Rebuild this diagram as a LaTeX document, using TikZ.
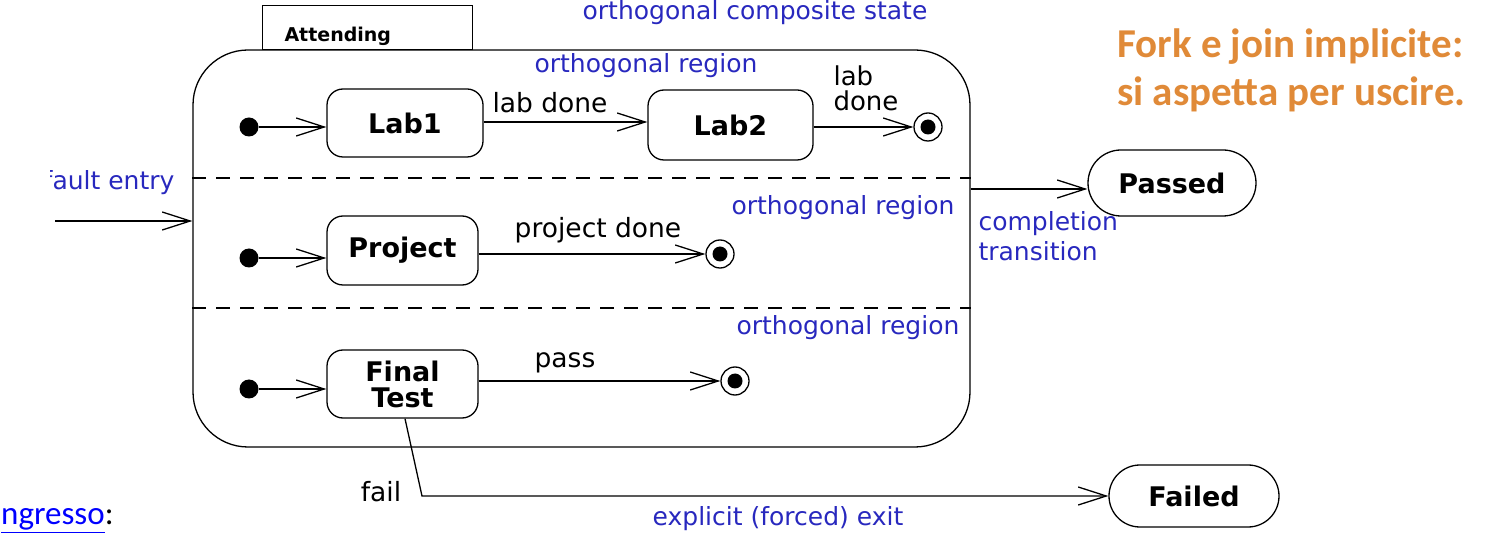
\documentclass[tikz,border=0pt]{standalone}
\usepackage{fontspec}
\setmainfont{DejaVu Sans}
\newfontfamily\calib{Carlito}
\usetikzlibrary{arrows.meta,shapes.misc}

\definecolor{umlblue}{RGB}{40,40,190}
\definecolor{forkorange}{RGB}{224,138,56}

\tikzset{
  statebox/.style={draw, line width=1.3pt, rounded corners=16pt, font=\fontsize{27}{28}\selectfont\bfseries,
    minimum height=68pt, align=center, inner sep=0pt},
  endstate/.style={draw, rounded rectangle, line width=1.3pt, minimum height=66pt,
    font=\fontsize{27}{28}\selectfont\bfseries, inner xsep=10pt},
  trans/.style={line width=1.3pt, -{Straight Barb[length=28pt,width=18pt,line width=1.3pt]}},
  initdot/.style={circle, fill=black, minimum size=19pt, inner sep=0pt},
  finaldot/.style={circle, draw, line width=1.3pt, minimum size=28pt, inner sep=0pt,
    path picture={\fill (path picture bounding box.center) circle (7.5pt);}},
  lbl/.style={font=\fontsize{26.5}{28}\selectfont},
  note/.style={text=umlblue, font=\fontsize{25}{30}\selectfont},
  forktxt/.style={anchor=base west, text=forkorange, font=\fontsize{41}{48}\selectfont\calib\bfseries, inner sep=0pt}
}

\begin{document}
\begin{tikzpicture}[x=1pt, y=-1pt]
  \useasboundingbox (0,0) rectangle (1492,534);

  % stato composito con le tre regioni
  \node[draw, line width=1.3pt, rounded corners=55pt, minimum width=777pt, minimum height=397pt,
    inner sep=0pt] (att) at (581.5,248.5) {};
  \node[draw, line width=1.3pt, minimum width=210pt, minimum height=44pt, anchor=south west,
    inner sep=0pt] (tab) at (262,50) {};
  \node[anchor=west, font=\fontsize{19}{21}\selectfont\bfseries] (attlbl) at (281,36) {Attending};
  \draw[dashed, line width=1.3pt, dash pattern=on 14pt off 10pt] (att.west |- 0,178) -- (att.east |- 0,178);
  \draw[dashed, line width=1.3pt, dash pattern=on 14pt off 10pt] (att.west |- 0,308) -- (att.east |- 0,308);

  \node[note] (compnote) at (755,13) {orthogonal composite state};
  \node[note] (reg1) at (646,66) {orthogonal region};
  \node[note] (reg2) at (843,208) {orthogonal region};
  \node[note] (reg3) at (848,328) {orthogonal region};

  % regione 1
  \node[initdot] (i1) at (249,127) {};
  \node[statebox, minimum width=156pt] (lab1) at (405,123) {Lab1};
  \node[statebox, minimum width=165pt, minimum height=70pt] (lab2) at (730.5,125) {Lab2};
  \node[finaldot] (f1) at (928,127) {};
  \draw[trans] (i1) -- (i1 -| lab1.west);
  \draw[trans] (lab1.east |- 0,122) -- (lab2.west |- 0,122);
  \draw[trans] (lab2.east |- f1) -- (f1);
  \node[lbl] (l1) at (550,103) {lab done};
  \node[lbl, align=left, font=\fontsize{26}{25}\selectfont] (l2) at (866,88) {lab\\done};

  % regione 2
  \node[initdot] (i2) at (249,258) {};
  \node[statebox, minimum width=151pt, minimum height=69pt] (proj) at (402.5,250.5) {Project};
  \node[finaldot] (f2) at (720,254) {};
  \draw[trans] (i2) -- (i2 -| proj.west);
  \draw[trans] (proj.east |- f2) -- (f2);
  \node[lbl] (l3) at (598,230) {project done};

  % regione 3
  \node[initdot] (i3) at (249,389) {};
  \node[statebox, minimum width=151pt, font=\fontsize{27}{26}\selectfont\bfseries] (ft) at (402.5,384) {Final\\Test};
  \node[finaldot] (f3) at (735,381) {};
  \draw[trans] (i3) -- (i3 -| ft.west);
  \draw[trans] (ft.east |- f3) -- (f3);
  \node[lbl] (l4) at (565,363) {pass};

  % uscite
  \node[endstate, minimum width=188pt] (passed) at (1172,183) {Passed};
  \node[endstate, minimum width=190pt, minimum height=62pt] (failed) at (1194,496) {Failed};
  \coordinate (cpl) at (att.east |- 0,189);
  \draw[trans] (cpl) -- (cpl -| passed.west);
  \node[note, anchor=north west, align=left] (cpllbl) at (975,208)
    {completion\\transition};
  \coordinate (fk) at (422,496);
  \draw[trans] (ft.south -| 405,0) -- (fk) -- (failed.west);
  \node[lbl] (l5) at (381,492) {fail};
  \node[note] (exitlbl) at (778,519) {explicit (forced) exit};

  % ingresso di default
  \coordinate (entry) at (55,221);
  \draw[trans] (entry) -- (entry -| att.west);
  \begin{scope}
    \clip (50,150) rectangle (200,210);
    \node[note, anchor=east] (deflbl) at (178,183) {default entry};
  \end{scope}
  \node[anchor=base west, font=\fontsize{33}{36}\selectfont\calib, inner sep=0pt] (ingr) at (1,525)
    {\textcolor{blue}{\underline{ngresso}}:};

  % nota
  \node[forktxt] (fork1) at (1117,58) {Fork e join implicite:};
  \node[forktxt] (fork2) at (1117,106) {si aspetta per uscire.};
\end{tikzpicture}
\end{document}
